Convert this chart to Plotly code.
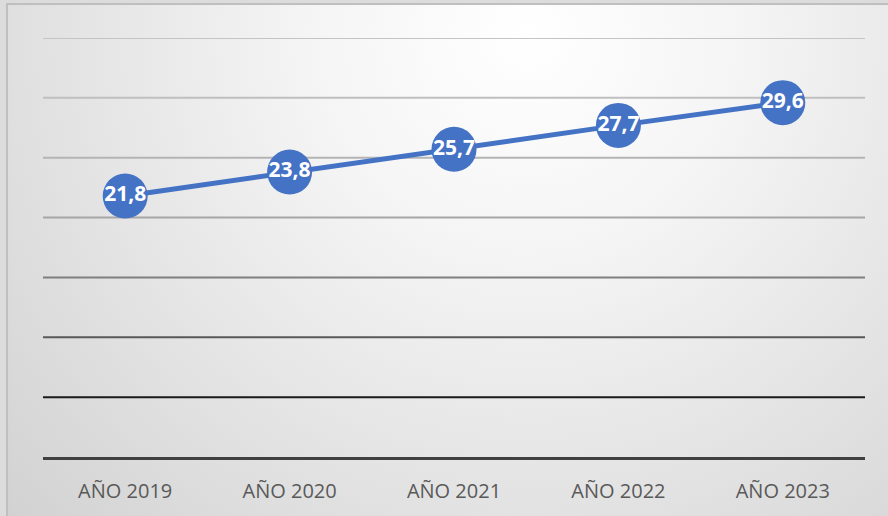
import base64
import plotly.graph_objects as go

categories = ["AÑO 2019", "AÑO 2020", "AÑO 2021", "AÑO 2022", "AÑO 2023"]
values = [21.8, 23.8, 25.7, 27.7, 29.6]
labels = ["21,8", "23,8", "25,7", "27,7", "29,6"]
grid_values = [5, 10, 15, 20, 25, 30, 35]
grid_colors = ["#1a1a1a", "#595959", "#7f7f7f", "#a6a6a6", "#b4b4b4", "#bfbfbf", "#c4c4c4"]

W, H = 888, 516
PW, PH = 822, 419
ML, MT = 43, 38
MR, MB = W - ML - PW, H - MT - PH

svg = '''<svg xmlns="http://www.w3.org/2000/svg" width="883" height="516" viewBox="0 0 883 516" preserveAspectRatio="none">
<defs><radialGradient id="g" gradientUnits="userSpaceOnUse" cx="515" cy="30" r="700">
<stop offset="0" stop-color="#ffffff"/><stop offset="0.3" stop-color="#f5f5f5"/><stop offset="1" stop-color="#d2d2d2"/></radialGradient></defs>
<rect x="0" y="0" width="883" height="516" fill="url(#g)"/>
<rect x="1" y="1" width="900" height="600" fill="none" stroke="#bfbfbf" stroke-width="2"/>
</svg>'''
src = "data:image/svg+xml;base64," + base64.b64encode(svg.encode()).decode()

fig = go.Figure()
fig.add_trace(go.Scatter(
    x=categories, y=values, mode="lines+markers+text",
    text=labels, textposition="middle center",
    textfont=dict(family="Open Sans", size=21, color="white", weight="bold"),
    line=dict(color="#4472C4", width=5),
    marker=dict(size=45, color="#4472C4"),
    hoverinfo="skip", cliponaxis=False,
))

shapes = []
for gv, gc in zip(grid_values, grid_colors):
    shapes.append(dict(type="line", xref="paper", yref="y", x0=0, x1=1, y0=gv, y1=gv,
                       line=dict(color=gc, width=2), layer="below"))

img_x0, img_y0 = 6, 3
fig.update_layout(
    width=W, height=H,
    margin=dict(l=ML, r=MR, t=MT, b=MB),
    paper_bgcolor="#dcdcdc", plot_bgcolor="rgba(0,0,0,0)",
    showlegend=False,
    shapes=shapes,
    images=[dict(source=src, xref="paper", yref="paper",
                 x=(img_x0 - ML) / PW, y=(H - MB - img_y0) / PH,
                 sizex=(W + 10 - img_x0) / PW, sizey=(H + 10 - img_y0) / PH,
                 xanchor="left", yanchor="top", sizing="stretch", layer="below")],
    xaxis=dict(range=[-0.5, 4.5], showgrid=False, zeroline=False,
               showline=True, linecolor="#404040", linewidth=3,
               ticks="", tickfont=dict(family="Open Sans", size=20, color="#595959"),
               ticklabelstandoff=14, fixedrange=True),
    yaxis=dict(range=[0, 35], showgrid=False, zeroline=False, showticklabels=False,
               showline=False, fixedrange=True),
)

fig.write_html("out.html", config={"displayModeBar": False},
               post_script="document.body.style.margin='0';")
